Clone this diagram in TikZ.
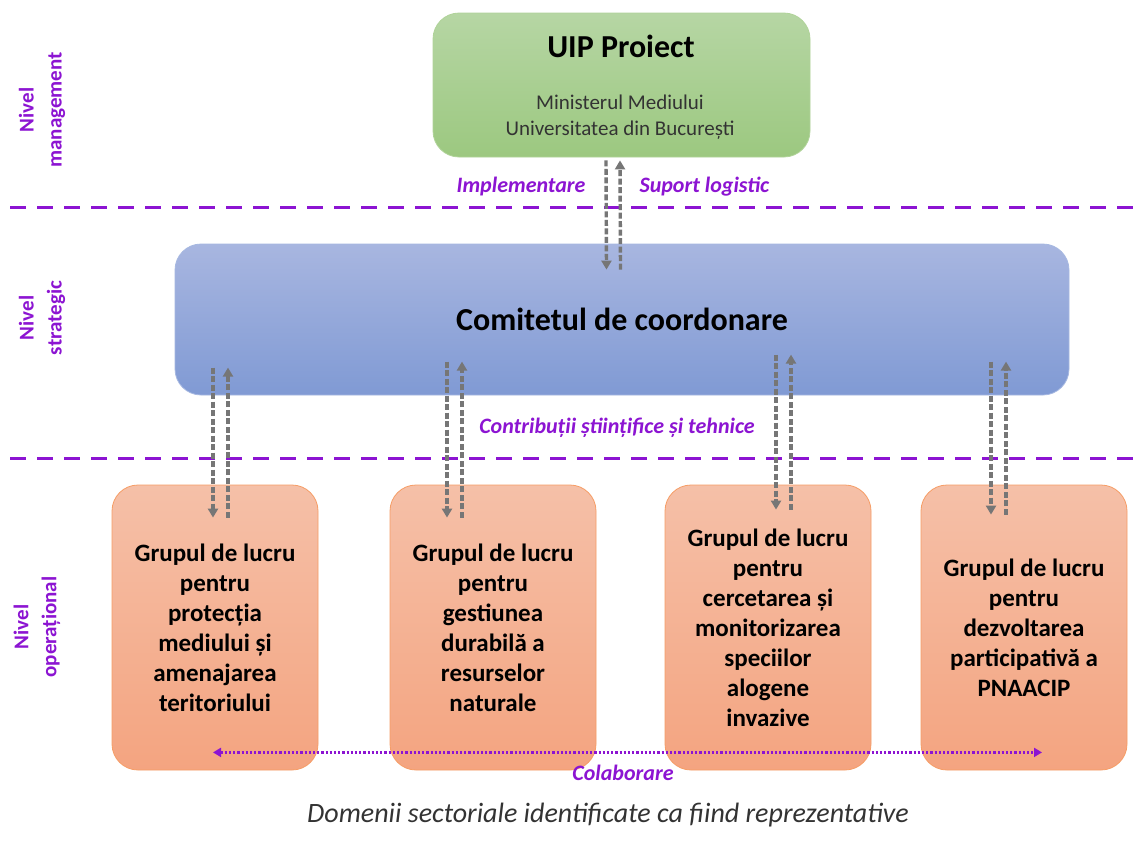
\documentclass[tikz,border=0pt]{standalone}
\usepackage{fontspec}
\setmainfont{Carlito}
\usepackage{tikz}
\usetikzlibrary{positioning,calc,arrows.meta}

\definecolor{mov}{RGB}{140,20,210}
\definecolor{gri}{RGB}{118,118,118}
\definecolor{verdesus}{RGB}{182,214,164}
\definecolor{verdejos}{RGB}{156,200,128}
\definecolor{albsus}{RGB}{168,182,224}
\definecolor{albjos}{RGB}{128,154,212}
\definecolor{portsus}{RGB}{245,192,168}
\definecolor{portjos}{RGB}{244,164,128}

\tikzset{
  cutie/.style={rectangle, rounded corners=26pt, line width=0.8pt},
  grup/.style={cutie, draw=portjos!80!orange, top color=portsus, bottom color=portjos,
    minimum width=206pt, minimum height=285pt, align=center,
    font=\fontsize{25}{30}\selectfont\bfseries},
  flux/.style={gri, line width=3.4pt, dash pattern=on 6pt off 2.5pt,
    -{Triangle[length=9pt,width=10pt]}},
  nivel/.style={mov, line width=3pt, dash pattern=on 16pt off 11pt},
  eticheta/.style={mov, font=\fontsize{22}{26}\selectfont\bfseries\itshape},
  lateral/.style={mov, rotate=90, align=center, font=\fontsize{21}{28}\selectfont\bfseries}
}

\begin{document}
\begin{tikzpicture}[x=1pt,y=-1pt]
  \useasboundingbox[fill=white] (0,0) rectangle (1135,852);

  % niveluri
  \draw[nivel] (10,207) -- (1135,207);
  \draw[nivel] (10,458) -- (1135,458);
  \node[lateral] (nivman) at (42,110) {Nivel\\management};
  \node[lateral] (nivstr) at (42,318) {Nivel\\strategic};
  \node[lateral] (nivop) at (37,627) {Nivel\\operațional};

  % management
  \node[cutie, draw=verdejos!80!white, top color=verdesus, bottom color=verdejos,
    minimum width=377pt, minimum height=144pt] (uip) at (621.5,85) {};
  \node[font=\fontsize{32}{36}\selectfont\bfseries] (uiptitlu) at (621,46) {UIP Proiect};
  \node[align=center, text=black!80, font=\fontsize{21}{26}\selectfont] (uipsub) at (620,117)
    {Ministerul Mediului\\Universitatea din București};

  % strategic
  \node[cutie, draw=albjos!70!white, top color=albsus, bottom color=albjos,
    minimum width=894pt, minimum height=151pt, font=\fontsize{32}{36}\selectfont\bfseries]
    (comitet) at (622,319.5) {Comitetul de coordonare};

  \draw[flux] ($(uip.south)+(-15.5,3)$) -- ($(comitet.north)+(-15.5,26)$);
  \draw[flux] ($(comitet.north)+(-1.5,26)$) -- ($(uip.south)+(-1.5,3)$);
  \node[eticheta, anchor=east] (impl) at (589,187) {Implementare};
  \node[eticheta, anchor=west] (suport) at (636,187) {Suport logistic};

  % operational
  \node[grup] (grup1) at (215,627.5) {Grupul de lucru\\pentru\\protecția\\mediului și\\amenajarea\\teritoriului};
  \node[grup] (grup2) at (493,627.5) {Grupul de lucru\\pentru\\gestiunea\\durabilă a\\resurselor\\naturale};
  \node[grup] (grup3) at (768,627.5) {Grupul de lucru\\pentru\\cercetarea și\\monitorizarea\\speciilor\\alogene\\invazive};
  \node[grup] (grup4) at (1024,627.5) {Grupul de lucru\\pentru\\dezvoltarea\\participativă a\\PNAACIP};

  \foreach \g/\dx/\sus/\jos in {grup1/-2/117/33, grup2/-46/123/33, grup3/8/130/25, grup4/-33/123/30}{
    \draw[flux] ($(\g.north)+(\dx,-\sus)$) -- ($(\g.north)+(\dx,\jos)$);
    \draw[flux] ($(\g.north)+(\dx+15,\jos)$) -- ($(\g.north)+(\dx+15,-\sus)$);
  }
  \node[eticheta] (contrib) at (617,428) {Contribuții științifice și tehnice};

  \draw[mov, line width=2.2pt, dotted, {Triangle[length=8pt,width=9pt]}-{Triangle[length=8pt,width=9pt]}]
    ($(grup1.south)+(-2,-18)$) -- ($(grup4.south)+(18,-18)$);
  \node[eticheta] (colab) at (623,773) {Colaborare};

  \node[text=black!80, font=\fontsize{28}{33}\selectfont\itshape] (domenii) at (608,815)
    {Domenii sectoriale identificate ca fiind reprezentative};
\end{tikzpicture}
\end{document}
